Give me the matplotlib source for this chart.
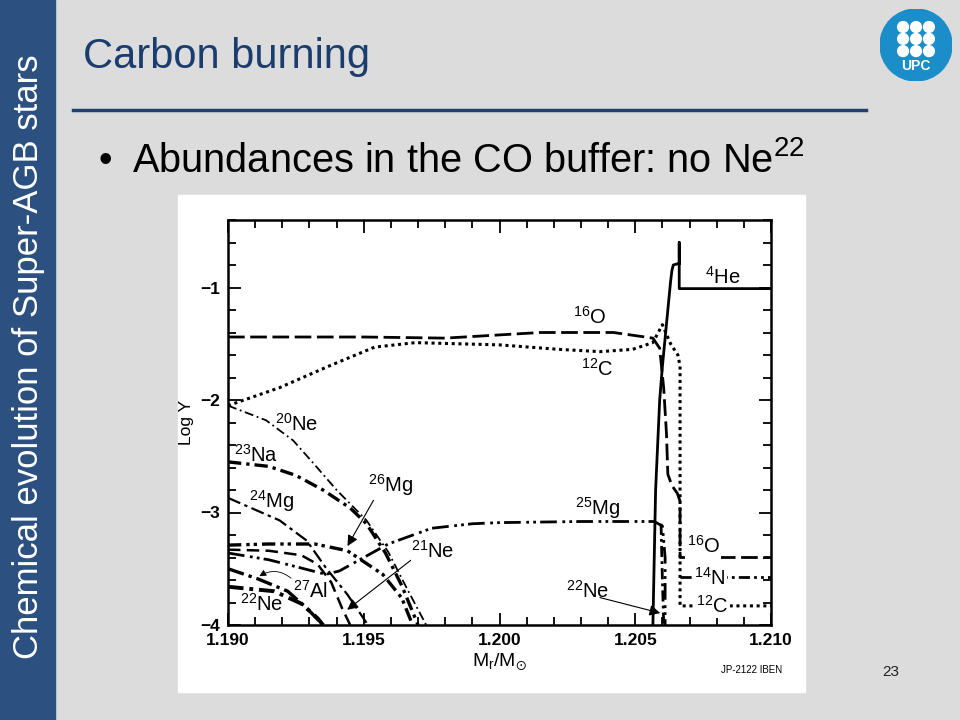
import matplotlib.pyplot as plt
from matplotlib.patches import Rectangle, Circle
from matplotlib.lines import Line2D
from matplotlib.ticker import MultipleLocator, FormatStrFormatter, FuncFormatter

plt.rcParams['font.family'] = ['Liberation Sans', 'DejaVu Sans']
plt.rcParams['mathtext.default'] = 'regular'

# abundance profiles (log Y against M_r/M_sun)
he4_x = [1.20565, 1.20575, 1.2059, 1.2060, 1.2062, 1.2063, 1.20635, 1.2064, 1.20655, 1.20662, 1.20662, 1.20662, 1.210]
he4_y = [-4.0, -2.8, -2.0, -1.7, -1.2, -0.95, -0.85, -0.80, -0.79, -0.79, -0.60, -1.01, -1.01]

o16_x = [1.190, 1.195, 1.198, 1.2015, 1.2042, 1.20565, 1.2059, 1.20605, 1.20615, 1.2062, 1.20635, 1.20655, 1.20665, 1.20665, 1.210]
o16_y = [-1.44, -1.44, -1.45, -1.40, -1.40, -1.45, -1.54, -1.90, -2.30, -2.66, -2.76, -2.83, -2.90, -3.40, -3.40]

c12_x = [1.190, 1.1919, 1.1938, 1.1954, 1.1969, 1.2000, 1.2022, 1.2037, 1.2049, 1.20565, 1.2060, 1.2063, 1.20657, 1.20665, 1.20665, 1.210]
c12_y = [-2.05, -1.89, -1.69, -1.53, -1.49, -1.51, -1.55, -1.57, -1.55, -1.49, -1.33, -1.50, -1.60, -1.70, -3.83, -3.83]

ne20_x = [1.190, 1.1914, 1.1924, 1.1931, 1.1940, 1.1951, 1.1959, 1.1966, 1.1973]
ne20_y = [-2.05, -2.18, -2.36, -2.55, -2.80, -3.07, -3.35, -3.68, -4.0]

na23_x = [1.190, 1.1915, 1.1925, 1.1935, 1.1945, 1.1951, 1.1958, 1.1964, 1.1970]
na23_y = [-2.55, -2.59, -2.67, -2.80, -2.96, -3.10, -3.36, -3.65, -4.0]

mg24_x = [1.190, 1.1919, 1.1929, 1.1936, 1.1944, 1.1951]
mg24_y = [-2.87, -3.07, -3.25, -3.49, -3.73, -3.98]

mg26_x = [1.190, 1.1915, 1.1932, 1.1944, 1.1957, 1.1964, 1.1968]
mg26_y = [-3.29, -3.28, -3.28, -3.34, -3.55, -3.76, -4.0]

mg25_x = [1.190, 1.1915, 1.1928, 1.1936, 1.1941, 1.1950, 1.1959, 1.1975, 1.1990, 1.2000, 1.2030, 1.20570, 1.2060, 1.2061, 1.2061]
mg25_y = [-3.36, -3.42, -3.50, -3.55, -3.52, -3.40, -3.28, -3.14, -3.10, -3.09, -3.08, -3.08, -3.12, -3.40, -4.0]

ne21_x = [1.190, 1.1915, 1.1927, 1.1933, 1.1938, 1.1942, 1.1945]
ne21_y = [-3.33, -3.34, -3.38, -3.46, -3.62, -3.85, -4.0]

al27_x = [1.190, 1.1911, 1.1922, 1.1929, 1.1935]
al27_y = [-3.50, -3.59, -3.70, -3.85, -4.0]

ne22_x = [1.190, 1.1917, 1.1927, 1.1933, 1.1935]
ne22_y = [-3.66, -3.70, -3.81, -3.94, -4.0]

ne22b_x = [1.20595, 1.2060, 1.20605]
ne22b_y = [-3.10, -3.60, -4.0]

n14_x = [1.20665, 1.210]
n14_y = [-3.57, -3.57]

fig = plt.figure(figsize=(9.6, 7.2), dpi=100)
fig.patch.set_facecolor('#DCDCDC')

# slide decoration
fig.add_artist(Rectangle((0, 0), 55 / 960, 1, transform=fig.transFigure, color='#2C5180', zorder=0))
fig.text(29 / 960, 1 - 357 / 720, 'Chemical evolution of Super-AGB stars', rotation=90,
         color='white', fontsize=25, ha='center', va='center')
fig.text(83 / 960, 1 - 57 / 720, 'Carbon burning', color='#1B3C6E', fontsize=30, va='center')
fig.add_artist(Line2D([73 / 960, 866 / 960], [1 - 110 / 720] * 2, color='#1F4070', lw=2.5))
fig.text(98 / 960, 1 - 172 / 720, '•', fontsize=28, va='baseline')
fig.text(132 / 960, 1 - 172 / 720, 'Abundances in the CO buffer: no Ne$^{22}$', fontsize=28.6, va='baseline')
fig.text(891 / 960, 1 - 672 / 720, '23', fontsize=11, ha='center', va='center', color='#222222')
fig.add_artist(Rectangle((178 / 960, 1 - 692 / 720), 627 / 960, 497 / 720,
                         transform=fig.transFigure, color='white', zorder=0))

# UPC logo
lax = fig.add_axes([880 / 960, 1 - 81 / 720, 72 / 960, 72 / 720])
lax.set_xlim(-1, 1)
lax.set_ylim(-1, 1)
lax.set_aspect('equal')
lax.axis('off')
lax.add_patch(Circle((0, 0), 1, color='#1B8DC9'))
for cy in [0.5, 0.17, -0.17]:
    for cx in [-0.36, 0, 0.36]:
        lax.add_patch(Circle((cx, cy), 0.15, color='white'))
lax.text(0, -0.58, 'UPC', color='white', fontsize=10, fontweight='bold', ha='center', va='center')

# the chart
ax = fig.add_axes([228 / 960, 1 - 625 / 720, 543 / 960, 405 / 720])
ax.plot(he4_x, he4_y, color='black', lw=2.0, ls='-')
ax.plot(o16_x, o16_y, color='black', lw=2.0, ls=(0, (6, 2)))
ax.plot(c12_x, c12_y, color='black', lw=2.2, ls=(0, (1, 1.2)))
ax.plot(ne20_x, ne20_y, color='black', lw=1.3, ls=(0, (5, 2, 1, 2)))
ax.plot(na23_x, na23_y, color='black', lw=2.4, ls=(0, (4, 1.5, 1, 1.5)))
ax.plot(mg24_x, mg24_y, color='black', lw=1.6, ls=(0, (6, 2, 1.5, 2)))
ax.plot(mg26_x, mg26_y, color='black', lw=2.4, ls=(0, (4, 1.5, 1, 1.2, 1, 1.5)))
ax.plot(mg25_x, mg25_y, color='black', lw=2.0, ls=(0, (6, 2, 1, 1.5, 1, 1.5)))
ax.plot(ne21_x, ne21_y, color='black', lw=1.8, ls=(0, (5, 2.5)))
ax.plot(al27_x, al27_y, color='black', lw=2.4, ls=(0, (5, 1.5, 1, 1.5)))
ax.plot(ne22_x, ne22_y, color='black', lw=2.8, ls=(0, (4, 1.5, 1, 1.5)))
ax.plot(ne22b_x, ne22b_y, color='black', lw=2.0, ls=(0, (4, 1.5, 1, 1.5)))
ax.plot(n14_x, n14_y, color='black', lw=2.0, ls=(0, (4, 1.5, 1, 1.5, 1, 1.5)))

ax.set_xlim(1.190, 1.210)
ax.set_ylim(-4.0, -0.4)
ax.xaxis.set_major_locator(MultipleLocator(0.005))
ax.xaxis.set_minor_locator(MultipleLocator(0.001))
ax.xaxis.set_major_formatter(FormatStrFormatter('%.3f'))
ax.yaxis.set_major_locator(MultipleLocator(1))
ax.yaxis.set_minor_locator(MultipleLocator(0.2))
ax.yaxis.set_major_formatter(FuncFormatter(lambda v, p: '\u2212%d' % abs(round(v))))
ax.tick_params(which='both', direction='in', top=True, right=True, width=1.3, labelsize=12.5, pad=6)
ax.tick_params(which='major', length=9)
ax.tick_params(which='minor', length=6)
for t in ax.get_xticklabels() + ax.get_yticklabels():
    t.set_fontweight('bold')
for s in ax.spines.values():
    s.set_linewidth(1.8)
ax.set_ylabel('Log Y', fontsize=12.5, labelpad=4)
ax.set_xlabel(r'M$_\mathregular{r}$/M$_{\!\odot}$', fontsize=14, labelpad=2)

lab = dict(fontsize=14.5, ha='center', va='center')
ax.text(1.20823, -0.905, '$^{4}$He', **lab)
ax.text(1.20333, -1.26, '$^{16}$O', **lab)
ax.text(1.20359, -1.72, '$^{12}$C', **lab)
ax.text(1.19254, -2.21, '$^{20}$Ne', **lab)
ax.text(1.19103, -2.49, '$^{23}$Na', **lab)
ax.text(1.19597, -2.76, '$^{26}$Mg', **lab)
ax.text(1.19162, -2.90, '$^{24}$Mg', **lab)
ax.text(1.20363, -2.96, '$^{25}$Mg', **lab)
ax.text(1.19755, -3.34, '$^{21}$Ne', **lab)
ax.text(1.19302, -3.70, '$^{27}$Al', **lab)
ax.text(1.20326, -3.70, '$^{22}$Ne', **lab)
ax.text(1.19125, -3.81, '$^{22}$Ne', **lab)
box = dict(facecolor='white', edgecolor='none', pad=1)
ax.text(1.20750, -3.30, '$^{16}$O', bbox=box, **lab)
ax.text(1.20775, -3.58, '$^{14}$N', bbox=box, **lab)
ax.text(1.20783, -3.83, '$^{12}$C', bbox=box, **lab)

arr = dict(arrowstyle='-|>', color='black', lw=0.8, mutation_scale=16)
ax.annotate('', xy=(1.19435, -3.32), xytext=(1.19541, -2.87), arrowprops=arr)
ax.annotate('', xy=(1.19431, -3.88), xytext=(1.19681, -3.41), arrowprops=arr)
ax.annotate('', xy=(1.20602, -3.90), xytext=(1.20360, -3.75), arrowprops=arr)
ax.annotate('', xy=(1.19107, -3.58), xytext=(1.19240, -3.60),
            arrowprops=dict(arrowstyle='-|>', color='black', lw=0.6, mutation_scale=10,
                            connectionstyle='arc3,rad=0.4'))

fig.text(752 / 960, 1 - 670 / 720, 'JP-2122 IBEN', fontsize=7, ha='center', va='center')

fig.savefig('out.png', dpi=100, facecolor=fig.get_facecolor())
